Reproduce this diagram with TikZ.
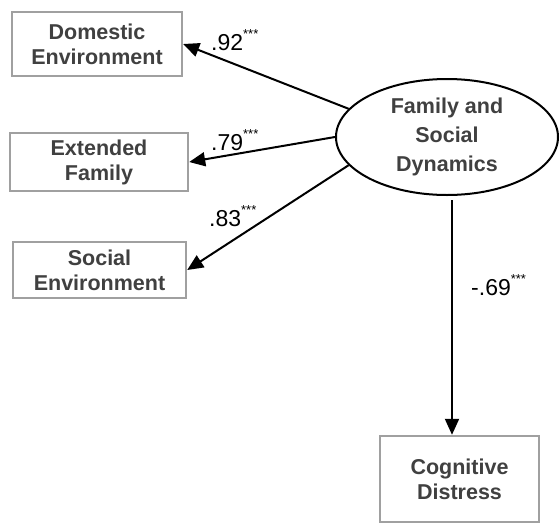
\documentclass[tikz,border=0pt]{standalone}
\usepackage{fontspec}
\setmainfont{Liberation Sans}
\usetikzlibrary{arrows.meta,shapes.geometric}
\definecolor{boxtext}{HTML}{404040}
\definecolor{boxline}{HTML}{A0A0A0}
\begin{document}
\begin{tikzpicture}[x=1pt,y=-1pt,
  obs/.style={draw=boxline,line width=2.4pt,fill=white,text=boxtext,
    font=\fontsize{21.5}{25}\selectfont\bfseries,align=center,inner sep=0pt},
  lat/.style={ellipse,draw=black,line width=2pt,fill=white,text=boxtext,
    font=\fontsize{21.5}{29}\selectfont\bfseries,align=center,inner sep=0pt},
  arr/.style={line width=2pt,-{Triangle[length=16pt,width=14pt]}},
  coef/.style={font=\fontsize{23}{24}\selectfont,anchor=west,inner sep=0pt},
  stars/.style={font=\fontsize{13}{13}\selectfont}]
\useasboundingbox (0,0) rectangle (560,523);
% indicator boxes
\node[obs,minimum width=170,minimum height=64] (dom) at (97,44) {Domestic\\Environment};
\node[obs,minimum width=178,minimum height=58] (ext) at (99,162) {Extended\\Family};
\node[obs,minimum width=173,minimum height=56] (soc) at (99.5,270) {Social\\Environment};
% latent factor
\node[lat,minimum width=222,minimum height=116] (fsd) at (447,137) {Family and\\Social\\Dynamics};
% outcome
\node[obs,minimum width=159,minimum height=86] (cog) at (459.5,479) {Cognitive\\Distress};
% loadings
\draw[arr] (fsd.164) -- (dom.east);
\draw[arr] (fsd.west) -- (ext.east);
\draw[arr] (fsd.196) -- (soc.east);
\coordinate (fsdfoot) at (452,200);
\draw[arr] (fsdfoot) -- (fsdfoot |- cog.north);
% coefficients
\node[coef] (c1) at (211,40) {.92\raisebox{3pt}{\textsuperscript{\fontsize{13}{13}\selectfont ***}}};
\node[coef] (c2) at (211,140) {.79\raisebox{3pt}{\textsuperscript{\fontsize{13}{13}\selectfont ***}}};
\node[coef] (c3) at (209,216) {.83\raisebox{3pt}{\textsuperscript{\fontsize{13}{13}\selectfont ***}}};
\node[coef] (c4) at (471,285) {-.69\raisebox{3pt}{\textsuperscript{\fontsize{13}{13}\selectfont ***}}};
\end{tikzpicture}
\end{document}
